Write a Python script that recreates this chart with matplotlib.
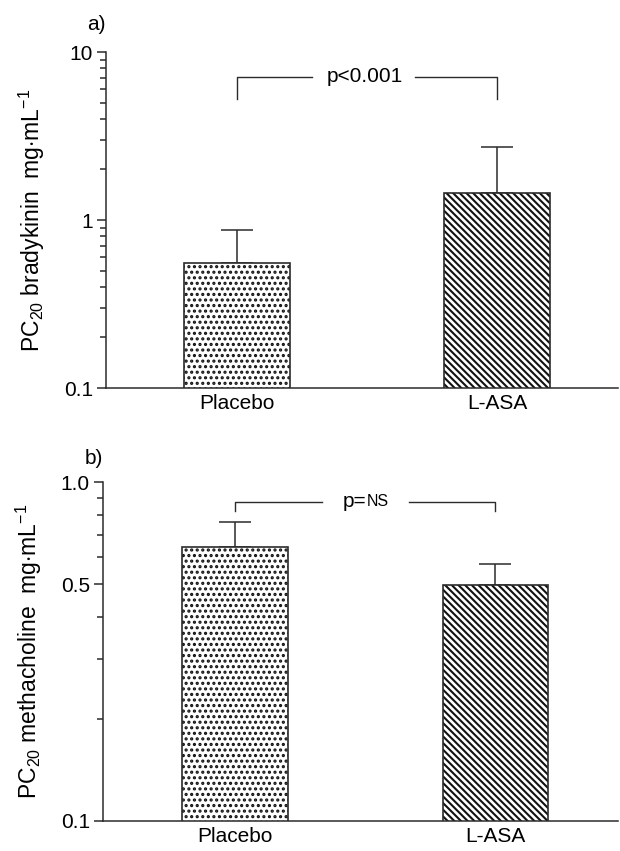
import matplotlib
matplotlib.use("Agg")
import matplotlib.pyplot as plt
import numpy as np
from matplotlib.ticker import FixedLocator, NullFormatter

plt.rcParams['font.family'] = ['Liberation Sans', 'DejaVu Sans']
plt.rcParams['mathtext.fontset'] = 'custom'
plt.rcParams['mathtext.rm'] = 'Liberation Sans'
plt.rcParams['mathtext.it'] = 'Liberation Sans'
plt.rcParams['hatch.linewidth'] = 1.5

# data
groups = ['Placebo', 'L-ASA']
brady_mean = [0.555, 1.45]
brady_err = [0.315, 1.27]
metha_mean = [0.643, 0.497]
metha_err = [0.119, 0.076]
hatches = ['...', '\\\\\\\\\\']

ink = '#2b2b2b'


def draw_panel(ax, means, errs, ylim, yticks, yticklabels, minors, ylabel, tag,
               tag_y, bracket_top, bracket_leg, gaps, xlim):
    x = np.arange(len(groups))
    ax.set_yscale('log')
    ax.bar(x, means, width=0.405, color='white', edgecolor=ink, linewidth=0, zorder=2)
    for xi, m, h in zip(x, means, hatches):
        ax.bar(xi, m, width=0.405, color='none', edgecolor='#111111', linewidth=0,
               hatch=h, zorder=2)
    ax.bar(x, means, width=0.405, color='none', edgecolor=ink, linewidth=1.2, zorder=3)
    ax.errorbar(x, means, yerr=[np.zeros(len(errs)), errs], fmt='none',
                ecolor=ink, elinewidth=1.1, capsize=11.5, capthick=1.1, zorder=1)
    ax.set_ylim(*ylim)
    ax.set_xlim(*xlim)
    ax.yaxis.set_major_locator(FixedLocator(yticks))
    ax.set_yticklabels(yticklabels)
    ax.yaxis.set_minor_locator(FixedLocator(minors))
    ax.yaxis.set_minor_formatter(NullFormatter())
    ax.set_xticks(x)
    ax.set_xticklabels(groups)
    ax.tick_params(axis='x', length=0, pad=4, labelsize=15)
    ax.tick_params(axis='y', which='major', length=6.5, width=1.1, color=ink,
                   labelsize=15, pad=3)
    ax.tick_params(axis='y', which='minor', length=4.3, width=1.1, color=ink)
    for s in ['top', 'right']:
        ax.spines[s].set_visible(False)
    for s in ['left', 'bottom']:
        ax.spines[s].set_color(ink)
        ax.spines[s].set_linewidth(1.1)
    ax.set_ylabel(ylabel, fontsize=16.5, labelpad=12)
    ax.text(0.0, tag_y, tag, transform=ax.transAxes, fontsize=15,
            ha='right', va='bottom')
    # significance bracket
    gl, gr = gaps
    ax.plot([0, 0, gl], [bracket_leg, bracket_top, bracket_top], color=ink, lw=1.0)
    ax.plot([gr, 1, 1], [bracket_top, bracket_top, bracket_leg], color=ink, lw=1.0)
    return ax


fig = plt.figure(figsize=(6.2, 8.51), dpi=100)
ax1 = fig.add_axes([106 / 620, 1 - 388 / 851, 512 / 620, 336 / 851])
ax2 = fig.add_axes([103 / 620, 1 - 821 / 851, 515 / 620, 339 / 851])

draw_panel(ax1, brady_mean, brady_err, (0.1, 10), [0.1, 1, 10], ['0.1', '1', '10'],
           [v * d for d in (0.1, 1) for v in range(2, 10)],
           r'PC$_{20}$ bradykinin  mg$\cdot$mL$^{-1}$', 'a)', 1.055,
           7.1, 5.25, (0.29, 0.685), (-0.504, 1.465))
ax1.text(0.49, 7.1, 'p<0.001', ha='center', va='center', fontsize=15)

draw_panel(ax2, metha_mean, metha_err, (0.1, 1.0), [0.1, 0.5, 1.0], ['0.1', '0.5', '1.0'],
           [0.2, 0.3, 0.4, 0.6, 0.7, 0.8, 0.9],
           r'PC$_{20}$ methacholine  mg$\cdot$mL$^{-1}$', 'b)', 1.04,
           0.873, 0.821, (0.335, 0.67), (-0.508, 1.472))
ax2.text(0.505, 0.873, 'p=', ha='right', va='center', fontsize=15)
ax2.text(0.505, 0.873, 'NS', ha='left', va='center', fontsize=11.5)

fig.savefig('out.png', dpi=100)
